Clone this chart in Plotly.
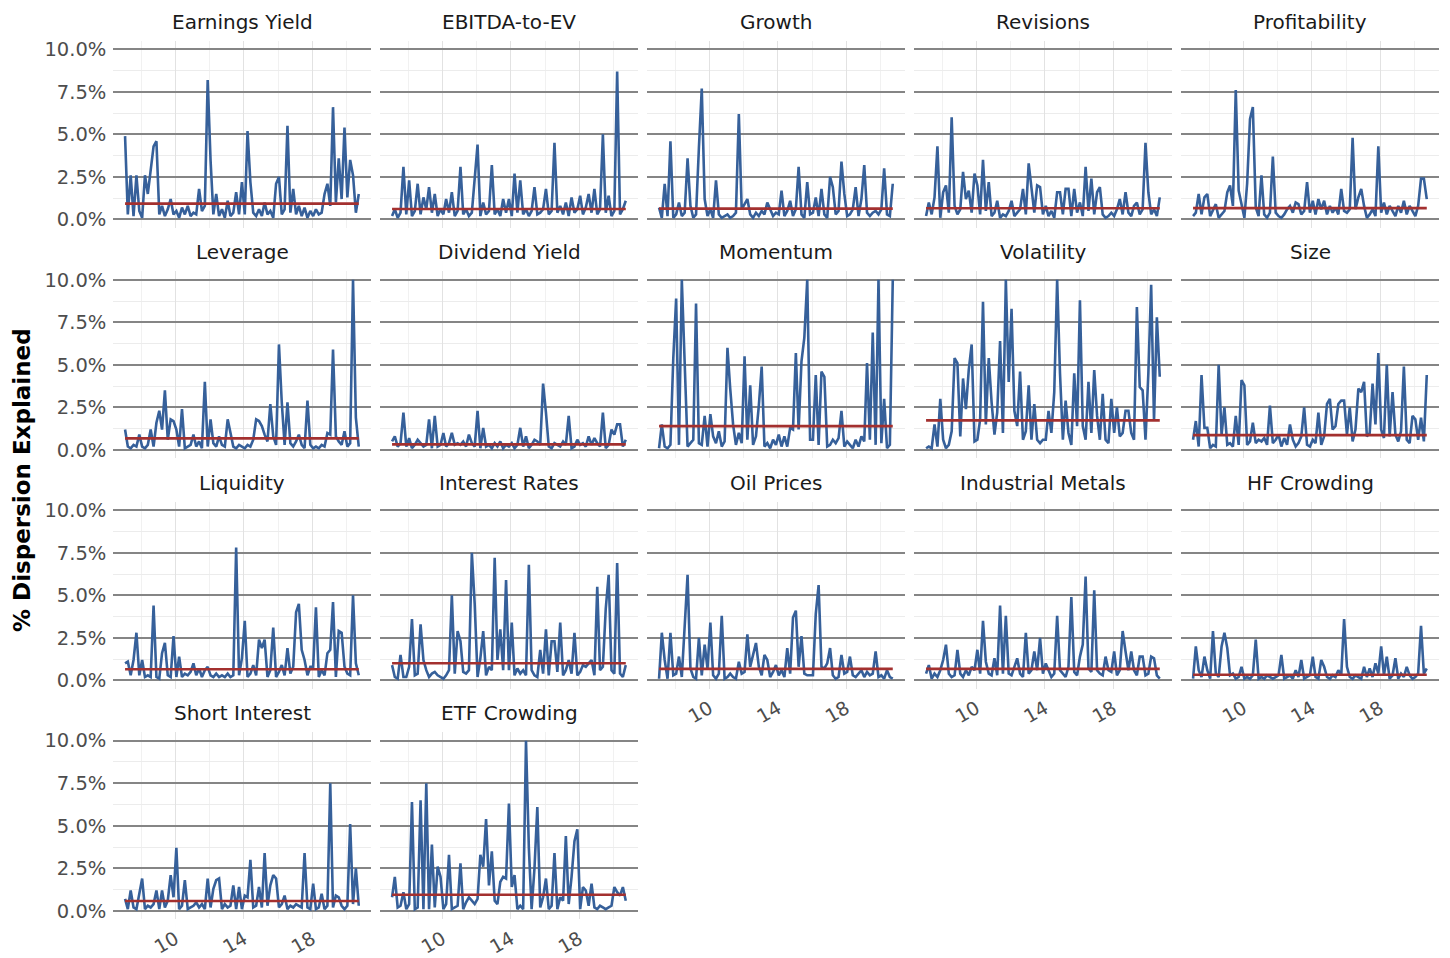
import plotly.graph_objects as go
import pandas as pd

# ---------------- data (values in % of dispersion explained) ----------------
dates = pd.date_range("2007-01-01", periods=83, freq="2MS") + pd.Timedelta(days=18)

factors = ["Earnings Yield", "EBITDA-to-EV", "Growth", "Revisions", "Profitability",
           "Leverage", "Dividend Yield", "Momentum", "Volatility", "Size",
           "Liquidity", "Interest Rates", "Oil Prices", "Industrial Metals", "HF Crowding",
           "Short Interest", "ETF Crowding"]

earnings_yield = [4.9,0.3,2.6,0.2,2.6,0.5, 0.1,2.6,1.5,3.0,4.3,4.6, 0.3,0.8,0.2,0.6,1.2,0.3,
                  0.5,0.1,0.7,0.3,0.8,0.2, 0.4,0.3,1.8,0.5,0.8,8.2, 3.5,0.3,1.5,0.2,0.6,0.1,
                  1.1,0.2,0.4,1.6,0.3,2.2, 0.3,5.2,2.2,0.4,0.2,0.6, 0.2,1.0,0.3,0.5,0.1,2.1,
                  2.5,0.3,0.6,5.5,0.4,1.8, 0.3,0.8,0.2,0.7,0.1,0.5, 0.2,0.6,0.3,0.4,1.5,2.1,
                  0.8,6.6,1.0,3.6,1.2,5.4, 1.3,3.5,2.6,0.4,1.5]
ebitda_to_ev = [0.2,0.6,0.1,0.4,3.1,0.3, 2.3,0.2,0.5,2.1,0.3,1.3, 0.6,1.9,0.4,1.5,0.2,0.6,
                0.3,1.2,0.4,1.6,0.2,0.5, 3.1,0.3,0.6,0.2,0.4,2.3, 4.4,0.2,1.0,0.3,0.5,3.2,
                0.3,0.6,0.2,1.2,0.4,1.2, 0.2,2.7,0.4,2.3,0.3,0.6, 0.2,0.5,1.9,0.3,0.4,0.6,
                1.8,0.3,0.5,4.5,0.4,0.8, 0.3,1.0,0.2,1.3,0.4,0.6, 1.4,0.3,0.7,1.5,0.4,1.8,
                0.3,0.6,5.0,0.4,1.4,0.2, 0.5,8.7,0.3,0.6,1.1]
growth = [0.7,0.1,2.1,0.2,4.6,0.1, 0.3,1.0,0.2,0.4,3.6,0.8, 0.1,0.3,4.2,7.7,1.2,0.2,
          0.6,0.1,2.3,0.3,0.1,0.2, 0.3,0.1,0.2,0.4,6.2,0.6, 0.9,1.2,0.3,0.1,0.4,0.2,
          0.5,0.3,1.0,0.6,0.2,0.4, 0.3,1.7,0.2,0.5,1.1,0.2, 0.6,3.1,0.3,0.1,2.2,0.3,
          0.4,1.3,0.2,1.8,0.3,0.1, 2.5,1.9,0.3,0.5,3.4,1.5, 0.2,0.3,0.6,1.9,0.2,1.2,
          3.2,0.4,0.2,0.4,0.5,0.3, 0.6,3.0,0.3,0.2,2.1]
revisions = [0.2,1.0,0.3,1.3,4.3,0.1, 1.6,2.0,0.4,6.0,0.8,0.3, 0.6,2.8,1.2,1.7,0.4,2.7,
             2.0,0.3,3.5,0.5,2.2,0.2, 0.4,1.1,0.1,0.3,0.2,0.5, 1.1,0.2,0.4,0.6,1.8,0.3,
             3.3,2.0,0.4,2.0,1.9,0.3, 0.8,0.2,0.5,0.1,1.6,1.6, 0.3,1.8,1.8,0.2,1.8,0.4,
             1.0,0.2,3.1,0.5,2.4,0.3, 1.6,1.9,0.3,0.1,0.2,0.4, 0.2,0.6,1.2,0.3,1.6,0.4,
             0.2,0.8,1.0,0.3,0.6,4.5, 1.6,0.3,0.6,0.2,1.3]
profitability = [0.2,0.4,1.5,0.3,1.3,1.5, 0.2,0.6,0.9,0.1,0.3,0.5, 1.6,2.0,0.8,7.6,1.7,0.8,
                 0.1,2.1,5.9,6.6,0.7,0.2, 2.6,0.3,0.1,0.4,3.7,0.4, 0.2,0.1,0.3,0.6,0.8,0.4,
                 1.0,0.9,0.3,0.5,2.2,0.4, 1.1,0.3,1.2,0.6,1.1,0.3, 0.8,0.4,0.7,0.3,1.8,0.5,
                 0.4,0.6,4.8,0.6,1.3,1.8, 0.8,0.1,0.3,0.6,0.2,4.3, 0.4,1.0,0.3,0.8,0.5,0.2,
                 0.8,0.4,1.1,0.3,0.8,0.5, 0.2,0.8,2.4,2.4,1.2]
leverage = [1.2,0.2,0.1,0.3,0.2,0.9, 0.2,0.1,0.3,1.2,0.2,1.6, 2.3,1.2,3.5,0.6,1.8,1.7,
            1.2,0.2,2.4,0.1,0.2,0.3, 0.9,0.2,0.5,0.1,4.0,0.2, 1.8,0.4,0.2,0.8,0.3,0.2,
            1.8,0.9,0.2,0.1,0.3,0.2, 0.1,0.3,0.2,0.6,1.8,1.7, 1.4,0.9,0.5,2.7,0.8,0.3,
            6.2,2.8,0.3,2.8,0.4,0.2, 0.5,0.9,0.3,0.1,2.9,0.3, 0.1,0.2,0.1,0.3,0.2,1.0,
            0.9,5.9,0.8,0.5,0.3,1.1, 0.2,0.4,10.0,1.9,0.2]
dividend_yield = [0.5,0.8,0.2,0.4,2.2,0.2, 0.7,0.1,0.3,0.6,0.4,0.2, 0.3,1.8,0.1,2.0,0.2,0.3,
                  1.0,0.2,0.4,1.0,0.3,0.4, 0.3,0.5,0.2,0.9,0.4,0.2, 2.3,0.1,1.3,0.2,0.3,0.1,
                  0.4,0.2,0.5,0.1,0.3,0.2, 0.4,0.1,0.3,1.3,0.2,0.8, 0.1,0.3,0.6,0.5,0.3,3.9,
                  2.2,0.2,0.1,0.4,0.3,0.2, 0.5,0.3,2.0,0.1,0.2,0.6, 0.3,0.4,0.2,0.8,0.3,0.7,
                  0.4,0.2,2.2,0.1,0.3,1.2, 0.9,1.5,1.5,0.2,0.6]
momentum = [0.1,1.5,0.2,0.1,0.3,5.4, 8.9,0.3,10.0,4.8,0.2,0.4, 0.6,8.6,0.4,0.3,2.0,0.2,
            2.1,0.8,0.4,1.1,0.2,0.5, 6.0,3.6,1.5,0.3,1.0,0.4, 5.5,0.6,3.8,0.3,0.8,2.6,
            4.9,0.2,0.4,0.1,0.6,0.3, 0.9,0.2,0.8,0.2,1.3,1.2, 5.7,1.2,5.2,6.6,10.0,0.6,
            0.6,4.4,0.3,4.6,4.3,0.2, 0.3,0.6,0.4,0.7,2.3,0.2, 0.5,0.3,0.1,0.6,0.2,0.8,
            0.5,5.1,0.6,6.9,0.3,10.0, 0.4,3.0,0.1,0.3,10.0]
volatility = [0.1,0.2,0.1,1.5,0.2,3.0, 0.6,0.1,0.3,1.1,5.4,5.1, 0.8,4.2,2.4,4.7,6.2,0.5,
              0.6,1.8,8.7,1.5,5.4,2.8, 0.9,2.2,6.4,1.0,10.0,4.0, 8.3,2.3,1.4,4.6,0.6,1.1,
              3.8,0.6,2.7,0.6,0.4,0.6, 0.6,2.3,1.0,3.4,10.0,4.5, 0.6,2.9,1.0,0.3,4.5,1.4,
              8.8,1.4,0.6,4.0,1.0,4.7, 2.0,0.6,3.3,0.6,0.4,3.0, 1.0,2.5,0.8,1.0,2.3,2.3,
              1.0,0.6,8.4,3.7,3.5,0.6, 4.5,9.7,1.7,7.8,4.3]
size = [0.6,1.7,0.2,4.4,1.3,1.3, 0.1,0.3,0.2,5.0,0.9,2.5, 0.3,0.4,0.2,2.0,0.3,4.1,
        3.8,0.3,0.5,1.6,0.4,0.6, 0.5,0.7,0.3,2.6,0.4,0.6, 0.9,0.2,0.7,0.3,1.5,0.6,
        0.2,0.4,0.8,2.5,0.3,0.2, 0.6,0.4,2.2,0.3,0.8,2.7, 3.0,1.2,1.4,2.7,2.9,2.9,
        0.9,2.5,0.5,1.2,3.6,3.4, 4.0,0.8,1.0,3.9,1.5,5.7, 1.2,0.7,5.0,0.8,3.4,0.9,
        0.5,1.1,4.9,0.6,0.4,2.0, 1.8,0.6,1.9,0.5,4.4]
liquidity = [1.0,1.1,0.3,1.2,2.8,0.3, 1.2,0.2,0.3,0.2,4.4,0.2, 0.1,1.6,2.2,0.3,0.2,2.6,
             0.2,1.4,0.2,0.4,0.3,0.5, 1.0,0.3,0.7,0.2,0.6,0.8, 0.3,0.2,0.4,0.2,0.3,0.2,
             0.4,0.2,0.3,7.8,0.3,1.3, 3.5,0.2,0.4,0.9,0.3,2.4, 1.9,2.4,0.2,0.6,3.1,0.2,
             0.5,0.9,0.3,1.9,0.4,0.8, 4.0,4.5,1.8,1.2,0.3,0.8, 0.8,4.3,0.2,0.6,0.3,1.6,
             1.8,4.6,0.2,2.9,2.8,0.8, 0.4,0.3,5.0,1.0,0.3]
interest_rates = [0.9,0.2,0.1,1.5,0.2,0.2, 0.8,3.6,0.3,0.4,3.3,1.2, 0.6,0.2,0.4,0.5,0.3,0.2,
                  0.1,0.3,0.6,5.0,0.4,2.9, 2.3,0.5,0.4,0.6,7.5,4.5, 0.2,1.3,2.9,0.3,0.8,0.6,
                  7.2,1.2,3.0,0.6,5.9,0.6, 3.4,0.3,0.7,0.4,0.6,0.3, 6.8,0.6,0.3,0.2,1.8,0.4,
                  3.0,0.3,2.3,2.3,0.5,3.4, 0.3,0.6,1.2,0.4,2.8,0.3, 0.5,0.9,0.8,1.0,1.2,0.3,
                  5.5,0.6,0.8,4.2,6.2,0.6, 0.4,6.9,0.4,0.2,0.9]
oil_prices = [0.1,2.8,1.2,0.1,2.8,0.3, 0.4,1.4,0.2,3.4,6.2,0.7, 0.2,0.1,2.5,0.3,2.1,0.7,
              3.4,0.3,0.1,0.4,3.8,0.1, 0.2,0.4,0.2,0.1,1.1,0.4, 0.5,2.7,0.8,1.5,2.2,0.8,
              0.3,1.5,1.2,0.2,0.5,0.9, 0.3,0.6,0.2,1.9,0.4,3.7, 4.1,0.8,2.6,0.4,0.3,0.3,
              0.3,3.9,5.6,0.8,0.7,1.0, 1.9,0.3,0.1,0.2,1.5,0.4, 0.5,1.4,0.3,0.2,0.4,0.6,
              0.2,0.5,0.3,0.4,1.7,0.2, 0.3,0.1,0.6,0.2,0.1]
industrial_metals = [0.4,0.9,0.1,0.4,0.2,0.6, 1.2,2.1,0.4,0.2,0.3,1.8, 0.4,0.2,0.6,0.3,0.8,0.6,
                     1.8,0.4,3.5,1.1,0.4,0.3, 1.3,0.3,4.4,0.4,3.8,0.4, 0.3,0.8,1.3,0.4,0.2,2.8,
                     0.4,0.6,1.7,0.6,2.5,0.4, 1.0,0.6,0.2,0.4,3.8,0.6, 0.4,0.2,0.8,4.9,0.5,0.3,
                     1.4,2.1,6.1,0.7,0.5,5.3, 0.6,0.4,0.3,1.4,0.6,0.5, 1.7,0.3,0.6,2.9,1.7,0.6,
                     1.7,0.6,0.3,1.4,1.4,0.3, 0.4,1.4,1.3,0.3,0.1]
hf_crowding = [0.1,2.0,0.6,0.2,1.4,0.6, 0.1,2.9,0.4,0.2,2.0,2.8, 1.9,0.3,0.4,0.1,0.2,0.8,
               0.1,0.2,0.1,0.3,2.4,0.1, 0.2,0.1,0.3,0.2,0.1,0.2, 0.3,1.5,0.1,0.2,0.3,0.1,
               0.6,0.2,1.2,0.1,0.2,0.3, 1.4,0.2,0.1,1.2,0.8,0.2, 0.1,0.3,0.2,0.6,0.3,3.6,
               0.8,0.2,0.1,0.3,0.2,0.1, 0.8,0.2,0.7,0.2,1.0,0.4, 2.0,0.3,1.4,0.1,0.3,1.3,
               0.1,0.4,0.2,0.8,0.3,0.1, 0.2,0.4,3.2,0.4,0.7]
short_interest = [0.7,0.1,1.2,0.2,0.1,0.9, 1.9,0.1,0.3,0.2,0.4,1.2, 0.1,1.2,0.2,0.6,2.1,0.8,
                  3.7,0.1,0.3,1.8,0.1,0.2, 0.3,0.5,0.2,0.4,0.1,1.9, 0.2,1.3,1.8,1.9,0.1,0.4,
                  0.2,0.3,1.5,0.1,1.4,0.1, 0.9,0.8,3.0,0.2,0.3,1.4, 0.2,3.4,0.3,1.5,2.1,1.9,
                  0.2,0.4,0.9,0.1,0.3,0.2, 0.4,0.3,0.2,3.4,0.2,0.1, 1.6,0.1,0.2,1.0,0.1,0.3,
                  7.5,0.2,0.9,0.8,0.3,0.1, 0.3,5.1,0.4,2.5,0.3]
etf_crowding = [0.8,2.0,0.2,0.3,1.1,0.1, 0.4,6.4,0.1,0.2,6.5,0.1, 7.5,0.1,3.9,0.2,2.6,2.0,
                0.1,0.4,3.3,0.1,0.2,0.3, 2.8,0.1,0.5,0.8,0.6,0.4, 0.7,3.3,2.6,5.4,1.5,3.5,
                0.6,0.4,1.7,2.0,1.9,6.3, 1.4,2.1,0.1,0.3,0.1,10.0, 3.7,0.1,2.5,6.1,0.2,0.8,
                1.9,0.1,0.3,3.4,0.1,0.8, 0.6,4.4,0.4,2.0,4.1,4.8, 0.1,1.4,1.2,0.3,1.6,0.2,
                0.1,0.3,0.2,0.1,0.2,0.3, 1.4,1.1,0.9,1.4,0.6]

series = [earnings_yield, ebitda_to_ev, growth, revisions, profitability,
          leverage, dividend_yield, momentum, volatility, size,
          liquidity, interest_rates, oil_prices, industrial_metals, hf_crowding,
          short_interest, etf_crowding]

# average level per factor (red line)
means = [0.93, 0.62, 0.64, 0.66, 0.67,
         0.68, 0.33, 1.40, 1.74, 0.87,
         0.66, 1.01, 0.68, 0.68, 0.33,
         0.58, 0.95]

y_ticks = [0, 2.5, 5, 7.5, 10]
y_tick_labels = ["0.0%", "2.5%", "5.0%", "7.5%", "10.0%"]
x_major = ["2010-01-01", "2014-01-01", "2018-01-01"]
x_major_labels = ["10", "14", "18"]
x_minor = ["2008-01-01", "2012-01-01", "2016-01-01", "2020-01-01"]

# ---------------- layout geometry ----------------
W, H = 1450, 958
FONT = "DejaVu Sans"
BLUE = "#36609a"
RED = "#a3302f"
col_left = [113.4 + 267.0 * c for c in range(5)]
panel_w = 257.5
row_top = [38.1 + 232.4 * r for r in range(4)]
panel_h = 188.8
x_range = ["2006-05-15", "2021-06-05"]

fig = go.Figure()
layout = dict(
    width=W, height=H,
    margin=dict(l=0, r=0, t=0, b=0),
    paper_bgcolor="white", plot_bgcolor="white",
    font=dict(family=FONT, color="#4d4d4d"),
    showlegend=False,
    hovermode=False,
)
annotations = []

n = len(factors)
for k in range(n):
    r, c = divmod(k, 5)
    suf = "" if k == 0 else str(k + 1)
    L = col_left[c]
    T = row_top[r]
    bottom = k + 5 >= n
    layout["xaxis" + suf] = dict(
        domain=[L / W, (L + panel_w) / W],
        anchor="y" + suf,
        type="date",
        range=x_range,
        tickmode="array", tickvals=x_major, ticktext=x_major_labels,
        showticklabels=bottom, tickangle=-30,
        tickfont=dict(family=FONT, size=19, color="#4d4d4d"),
        ticks="", ticklabelstandoff=4, showline=False, zeroline=False,
        showgrid=True, gridcolor="#e2e2e2", gridwidth=1.3,
        minor=dict(tickvals=x_minor, showgrid=True, gridcolor="#f1f1f1", gridwidth=0.8),
        fixedrange=True,
    )
    layout["yaxis" + suf] = dict(
        domain=[1 - (T + panel_h) / H, 1 - T / H],
        anchor="x" + suf,
        range=[-0.5, 10.5],
        tickmode="array", tickvals=y_ticks, ticktext=y_tick_labels,
        showticklabels=(c == 0),
        tickfont=dict(family=FONT, size=19.5, color="#4d4d4d"),
        ticks="", ticklabelstandoff=6,
        showline=False, zeroline=False,
        showgrid=True, gridcolor="#858585", gridwidth=1.7,
        minor=dict(tickvals=[1.25, 3.75, 6.25, 8.75], showgrid=True,
                   gridcolor="#ececec", gridwidth=0.8),
        fixedrange=True,
    )
    fig.add_trace(go.Scatter(
        x=dates, y=series[k], mode="lines",
        line=dict(color=BLUE, width=2.6),
        xaxis="x" + suf, yaxis="y" + suf, hoverinfo="skip",
    ))
    fig.add_trace(go.Scatter(
        x=[dates[0], dates[-1]], y=[means[k], means[k]], mode="lines",
        line=dict(color=RED, width=2.6),
        xaxis="x" + suf, yaxis="y" + suf, hoverinfo="skip",
    ))
    annotations.append(dict(
        text=factors[k], xref="paper", yref="paper",
        x=(L + panel_w / 2) / W, y=1 - (T - 19) / H,
        xanchor="center", yanchor="middle", showarrow=False,
        font=dict(family=FONT, size=20, color="#1a1a1a"),
    ))

annotations.append(dict(
    text="<b>% Dispersion Explained</b>", xref="paper", yref="paper",
    x=22 / W, y=1 - 481 / H, xanchor="center", yanchor="middle",
    textangle=-90, showarrow=False,
    font=dict(family=FONT, size=23, color="#000000"),
))
layout["annotations"] = annotations
fig.update_layout(**layout)

fig.write_html("out.html")
